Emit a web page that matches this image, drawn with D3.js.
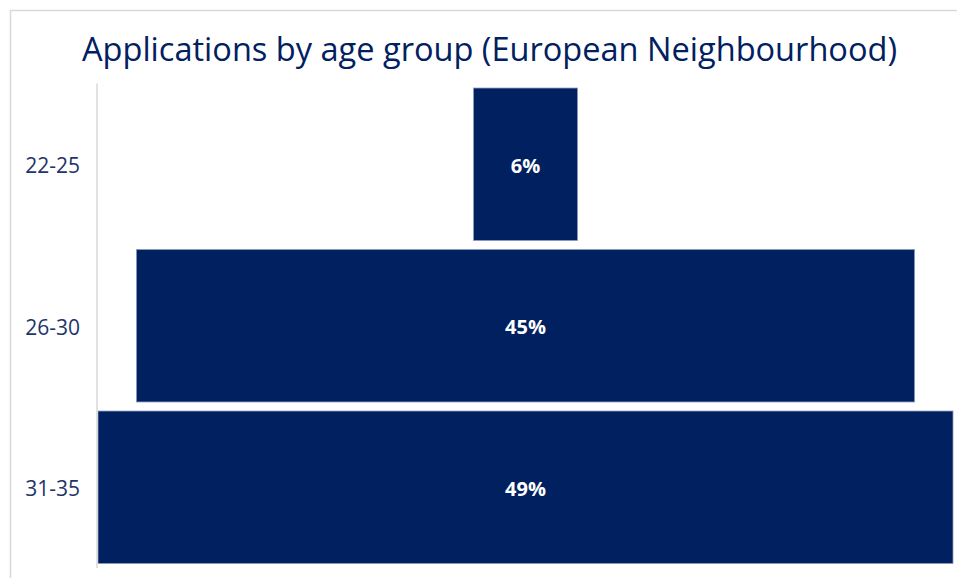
<!DOCTYPE html>
<html>
<head>
<meta charset="utf-8">
<script src="https://cdn.jsdelivr.net/npm/d3@7"></script>
<style>
  html, body { margin: 0; padding: 0; background: #ffffff; }
  svg { display: block; }
</style>
</head>
<body>
<svg id="chart" width="957" height="578"></svg>
<script>
// ---- data ----
const titleText = "Applications by age group (European Neighbourhood)";
const categories = ["22-25", "26-30", "31-35"];
const shares = [0.0596, 0.446, 0.49];   // share of applications (labels rounded)

// ---- layout ----
const W = 957, H = 578;
const svg = d3.select("#chart");
const navy = "#002060";
const textNavy = "#1f3468";

// chart frame (light grey border, cropped at right/bottom)
svg.append("path")
  .attr("d", `M10.5,${H + 2} L10.5,10.5 L${W + 2},10.5`)
  .attr("fill", "none")
  .attr("stroke", "#d9d9d9")
  .attr("stroke-width", 1.5);

// title
svg.append("text")
  .attr("x", 489.5)
  .attr("y", 61)
  .attr("text-anchor", "middle")
  .attr("font-family", "'Open Sans', sans-serif")
  .attr("font-size", 33)
  .attr("fill", navy)
  .attr("textLength", 815)
  .attr("lengthAdjust", "spacingAndGlyphs")
  .text(titleText);

const maxShare = d3.max(shares);
const x = d3.scaleLinear().domain([-maxShare, maxShare]).range([98, 953]);
const y = d3.scaleBand()
  .domain(categories)
  .range([83.5, 568])
  .paddingInner(0.056)
  .paddingOuter(0.028);

const data = categories.map((c, i) => ({ cat: c, v: shares[i] }));

// bars (funnel, centred)
svg.append("g").selectAll("rect")
  .data(data)
  .join("rect")
  .attr("x", d => x(-d.v))
  .attr("y", d => y(d.cat))
  .attr("width", d => x(d.v) - x(-d.v))
  .attr("height", y.bandwidth())
  .attr("fill", navy)
  .attr("stroke", "#8b9bbd")
  .attr("stroke-width", 0.8);

// value labels
const fmt = d3.format(".0%");
svg.append("g").selectAll("text")
  .data(data)
  .join("text")
  .attr("x", x(0))
  .attr("y", d => y(d.cat) + y.bandwidth() / 2 + 1.5)
  .attr("dy", "0.35em")
  .attr("text-anchor", "middle")
  .attr("font-family", "'Open Sans', sans-serif")
  .attr("font-weight", "bold")
  .attr("font-size", 20)
  .attr("fill", "#ffffff")
  .text(d => fmt(d.v));

// category axis
const yAxis = d3.axisLeft(y).tickSize(0).tickPadding(17);
const gAxis = svg.append("g")
  .attr("transform", "translate(97,0)")
  .call(yAxis);
gAxis.select(".domain")
  .attr("d", `M0,${y.range()[0]}V${y.range()[1]}`)
  .attr("stroke", "#d9d9d9")
  .attr("stroke-width", 1.5);
gAxis.selectAll(".tick text")
  .attr("font-family", "'Open Sans', sans-serif")
  .attr("font-size", 21)
  .attr("dy", "0.42em")
  .attr("fill", textNavy);
</script>
</body>
</html>
